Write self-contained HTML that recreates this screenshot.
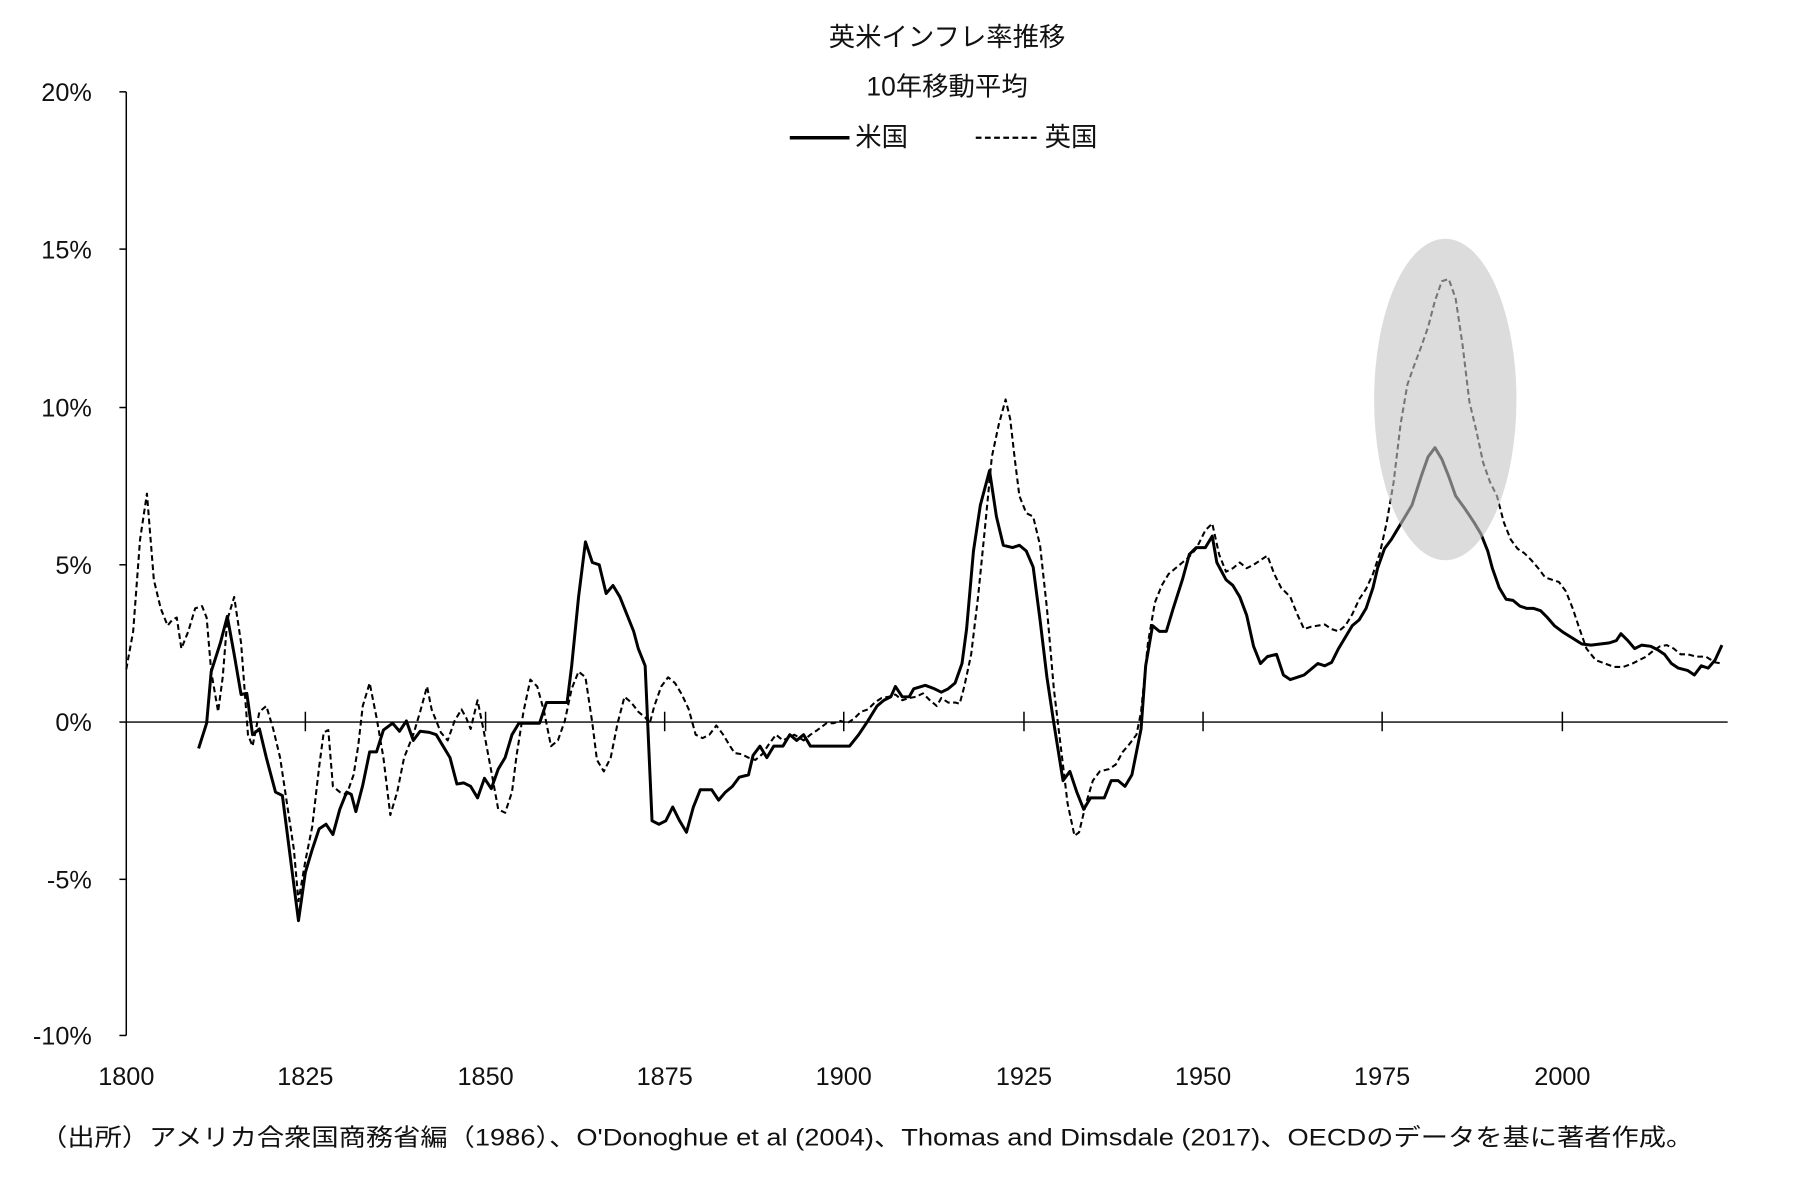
<!DOCTYPE html>
<html><head><meta charset="utf-8"><style>
html,body{margin:0;padding:0;background:#fff}
svg{display:block}
text{font-family:"Liberation Sans","Noto Sans CJK JP",sans-serif;fill:#111}
</style></head><body>
<svg width="1800" height="1177" viewBox="0 0 1568 1025.3" preserveAspectRatio="none">
<text x="825" y="40" font-size="23" text-anchor="middle">英米インフレ率推移</text>
<text x="825" y="83" font-size="23" text-anchor="middle">10年移動平均</text>
<line x1="688" y1="120" x2="740" y2="120" stroke="#000" stroke-width="3"/>
<text x="745" y="127" font-size="23">米国</text>
<line x1="850" y1="120" x2="905" y2="120" stroke="#000" stroke-width="2" stroke-dasharray="5,3"/>
<text x="910" y="127" font-size="23">英国</text>
<g stroke="#000" stroke-width="1.3">
<line x1="110" y1="80" x2="110" y2="902"/>
<line x1="104" y1="80" x2="110" y2="80"/><line x1="104" y1="217" x2="110" y2="217"/><line x1="104" y1="355" x2="110" y2="355"/><line x1="104" y1="492" x2="110" y2="492"/><line x1="104" y1="629" x2="110" y2="629"/><line x1="104" y1="766" x2="110" y2="766"/><line x1="104" y1="902" x2="110" y2="902"/>
<line x1="110" y1="629" x2="1505" y2="629"/>
<line x1="266" y1="620" x2="266" y2="637"/><line x1="423" y1="620" x2="423" y2="637"/><line x1="579" y1="620" x2="579" y2="637"/><line x1="735" y1="620" x2="735" y2="637"/><line x1="892" y1="620" x2="892" y2="637"/><line x1="1048" y1="620" x2="1048" y2="637"/><line x1="1204" y1="620" x2="1204" y2="637"/><line x1="1361" y1="620" x2="1361" y2="637"/>
</g>
<g font-size="22" text-anchor="end">
<text x="80" y="88">20%</text><text x="80" y="225">15%</text><text x="80" y="363">10%</text><text x="80" y="500">5%</text><text x="80" y="637">0%</text><text x="80" y="774">-5%</text><text x="80" y="910">-10%</text>
</g>
<g font-size="22" text-anchor="middle">
<text x="110" y="945">1800</text><text x="266" y="945">1825</text><text x="423" y="945">1850</text><text x="579" y="945">1875</text><text x="735" y="945">1900</text><text x="892" y="945">1925</text><text x="1048" y="945">1950</text><text x="1204" y="945">1975</text><text x="1361" y="945">2000</text>
</g>
<text x="35" y="998" font-size="21" textLength="1440" lengthAdjust="spacingAndGlyphs">（出所）アメリカ合衆国商務省編（1986）、O'Donoghue et al (2004)、Thomas and Dimsdale (2017)、OECDのデータを基に著者作成。</text>
<polyline fill="none" stroke="#000" stroke-width="1.8" stroke-dasharray="5,3" stroke-linejoin="round" points="110,583 116,550 122,470 128,430 134,505 140,530 146,545 150,540 154,538 158,565 164,550 170,530 176,528 180,538 184,585 190,620 194,590 198,540 204,520 210,560 216,640 220,650 226,620 232,615 238,635 244,660 250,700 256,740 260,785 266,750 272,720 278,668 282,638 286,636 290,685 296,690 302,692 308,675 312,650 316,615 322,595 328,625 334,660 340,710 346,690 352,660 360,640 366,620 372,598 376,618 384,638 390,645 396,628 402,618 406,625 410,635 416,610 422,640 428,672 434,705 440,708 446,690 450,658 456,620 462,592 468,598 474,620 480,650 486,645 492,628 498,600 504,585 510,590 516,630 520,662 526,672 532,660 538,630 544,607 550,612 556,620 562,625 566,630 570,615 576,598 582,590 588,595 594,605 600,618 606,640 612,643 618,640 624,632 630,640 636,650 640,656 646,657 652,660 658,662 664,657 670,648 676,640 682,645 686,643 692,640 700,645 706,640 712,636 720,630 726,630 732,628 738,630 744,626 750,620 756,618 762,612 768,608 774,607 780,605 786,610 792,608 798,607 804,604 810,610 816,615 820,608 826,612 832,612 836,613 840,598 846,570 852,520 858,460 864,398 870,370 876,348 880,365 884,400 888,432 894,447 900,450 906,475 912,530 918,600 924,650 930,700 936,728 940,725 946,700 952,680 958,672 966,670 972,666 978,655 984,648 990,640 994,620 1000,560 1006,525 1012,510 1018,500 1024,495 1030,490 1036,485 1042,478 1046,470 1050,462 1056,456 1062,483 1068,498 1074,495 1080,490 1086,495 1092,492 1098,488 1104,484 1110,500 1116,512 1124,520 1130,535 1136,548 1142,546 1148,545 1154,544 1160,548 1166,550 1172,545 1178,535 1184,522 1190,513 1196,500 1202,482 1208,455 1214,420 1220,370 1226,335 1232,318 1238,302 1244,285 1250,262 1256,245 1262,243 1268,260 1274,300 1280,350 1286,375 1292,403 1298,420 1304,432 1310,455 1316,470 1322,478 1328,482 1334,488 1340,495 1346,503 1352,505 1358,507 1364,515 1370,530 1376,548 1382,565 1390,575 1398,578 1406,581 1414,581 1422,578 1428,575 1434,572 1440,567 1446,563 1452,562 1458,565 1464,570 1470,570 1478,572 1486,572 1494,577 1500,578"/>
<polyline fill="none" stroke="#000" stroke-width="2.6" stroke-linejoin="round" points="173,652 180,630 184,585 192,560 198,537 204,570 210,605 215,604 220,640 226,635 232,660 240,690 246,693 252,740 260,802 266,760 272,740 278,722 284,718 290,727 296,705 302,690 306,692 310,707 316,684 322,655 328,655 334,636 342,630 348,637 354,628 360,645 366,637 374,638 380,640 386,650 392,660 398,683 404,682 410,685 416,695 422,678 428,687 434,670 440,660 446,640 452,630 458,630 470,630 476,612 488,612 494,612 498,580 504,520 510,472 516,490 522,492 528,517 534,510 540,520 546,535 552,550 556,565 562,580 568,715 574,718 580,715 586,703 592,715 598,725 604,703 610,688 620,688 626,697 632,690 638,685 644,677 652,675 656,658 662,650 668,660 674,650 682,650 688,640 694,645 700,640 706,650 740,650 748,640 756,628 764,615 770,610 776,607 780,598 786,607 792,607 796,600 806,597 814,600 820,603 826,600 832,595 838,578 842,548 848,480 854,440 862,410 868,450 874,475 882,477 888,475 894,480 900,494 906,540 912,590 918,630 922,655 926,680 932,672 938,690 944,705 950,695 962,695 968,680 974,680 980,685 986,675 990,655 994,635 998,580 1004,545 1010,550 1016,550 1022,530 1030,505 1036,483 1042,477 1050,477 1056,467 1060,490 1068,505 1074,510 1080,520 1086,536 1092,563 1098,578 1104,572 1112,570 1118,588 1124,592 1130,590 1136,588 1142,583 1148,578 1154,580 1160,577 1166,565 1172,555 1178,545 1184,540 1190,530 1196,512 1200,495 1206,478 1212,470 1218,460 1224,450 1230,440 1238,415 1244,398 1250,390 1256,400 1262,415 1268,432 1276,443 1284,455 1290,465 1296,480 1300,495 1306,512 1312,522 1318,523 1324,528 1330,530 1336,530 1342,532 1348,538 1354,545 1362,551 1370,556 1378,561 1386,562 1394,561 1402,560 1408,558 1412,552 1418,558 1424,565 1430,562 1438,563 1444,566 1450,570 1456,578 1462,582 1470,584 1476,588 1482,580 1488,582 1494,575 1500,562"/>
<ellipse cx="1259" cy="348" rx="62" ry="140" fill="#c4c4c4" fill-opacity="0.6"/>
</svg>
</body></html>
